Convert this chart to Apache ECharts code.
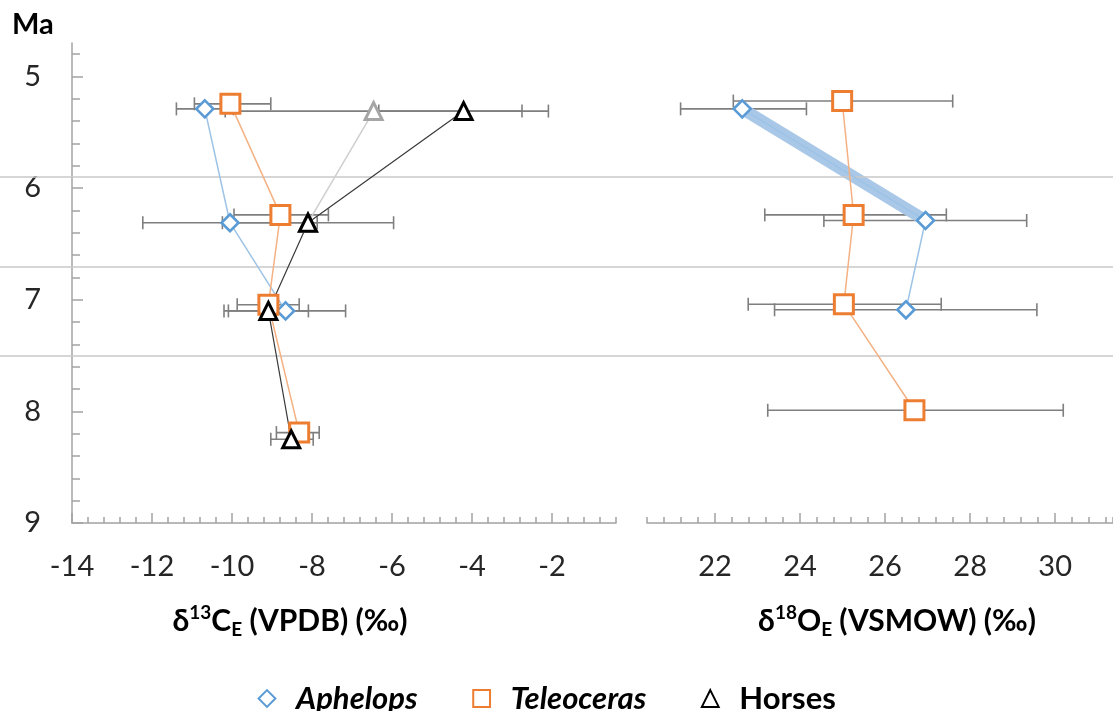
<!DOCTYPE html>
<html>
<head>
<meta charset="utf-8">
<script src="https://cdn.jsdelivr.net/npm/echarts@6/dist/echarts.min.js"></script>
<style>
  html, body { margin: 0; padding: 0; background: #fff; }
  #chart { width: 1113px; height: 711px; }
</style>
</head>
<body>
<div id="chart"></div>
<script>
// ---------- tick labels ----------
const ageTicks = [5, 6, 7, 8, 9];
const ageMinorTicks = [4.8, 5.2, 5.4, 5.6, 5.8, 6.2, 6.4, 6.6, 6.8, 7.2, 7.4, 7.6, 7.8, 8.2, 8.4, 8.6, 8.8];
const carbonTicks = [-14, -12, -10, -8, -6, -4, -2];
const oxygenTicks = [22, 24, 26, 28, 30];
const boundaryAges = [5.9, 6.7, 7.5];

// ---------- δ13C panel ----------
const aphelopsAgeC = [5.29, 6.31, 7.10];
const aphelopsC = [-10.68, -10.05, -8.66];
const aphelopsCLow = [-11.39, -12.23, -10.20];
const aphelopsCHigh = [-9.97, -7.87, -7.16];

const teleocerasAgeC = [5.245, 6.24, 7.045, 8.19];
const teleocerasC = [-10.04, -8.79, -9.09, -8.32];
const teleocerasCLow = [-10.94, -9.95, -9.87, -8.89];
const teleocerasCHigh = [-9.03, -7.59, -8.32, -7.82];

const horsesAgeC = [5.31, 6.31, 7.10, 8.25];
const horsesC = [-4.21, -8.10, -9.09, -8.52];
const horsesCLow = [-6.33, -10.24, -10.09, -9.03];
const horsesCHigh = [-2.09, -5.96, -8.09, -7.97];

const horsesGreyAgeC = [5.31, 6.31];
const horsesGreyC = [-6.46, -8.10];
const horsesGreyCLow = [-10.17];
const horsesGreyCHigh = [-2.75];

// ---------- δ18O panel ----------
const aphelopsAgeO = [5.29, 6.29, 7.09];
const aphelopsO = [22.64, 26.95, 26.49];
const aphelopsOLow = [21.19, 24.56, 23.40];
const aphelopsOHigh = [24.15, 29.33, 29.57];

const teleocerasAgeO = [5.22, 6.24, 7.04, 7.99];
const teleocerasO = [24.99, 25.26, 25.03, 26.69];
const teleocerasOLow = [22.43, 23.17, 22.78, 23.24];
const teleocerasOHigh = [27.59, 27.44, 27.32, 30.19];

// ---------- helpers ----------
const FONT = 'Lato';
const AXIS_GREY = '#a3a3a3';
const BAR_GREY = '#7f7f7f';

function pts(xs, ys) { return xs.map((v, i) => [v, ys[i]]); }
function bars(lo, hi, ys) { return lo.map((v, i) => [v, hi[i], ys[i]]); }

function errRender(params, api) {
  const y = api.value(2);
  const a = api.coord([api.value(0), y]);
  const b = api.coord([api.value(1), y]);
  const h = 6.5;
  const st = { stroke: BAR_GREY, lineWidth: 1.6, fill: null };
  return {
    type: 'group',
    children: [
      { type: 'line', shape: { x1: a[0], y1: a[1], x2: b[0], y2: b[1] }, style: st },
      { type: 'line', shape: { x1: a[0], y1: a[1] - h, x2: a[0], y2: a[1] + h }, style: st },
      { type: 'line', shape: { x1: b[0], y1: b[1] - h, x2: b[0], y2: b[1] + h }, style: st }
    ]
  };
}

function errSeries(name, lo, hi, ys, xi, yi) {
  return {
    name: name, type: 'custom', xAxisIndex: xi, yAxisIndex: yi,
    renderItem: errRender, data: bars(lo, hi, ys),
    encode: { x: [0, 1], y: 2 }, z: 3, silent: true, clip: false
  };
}

const axisLineStyle = { color: AXIS_GREY, width: 1.5 };
const labelStyle = { fontFamily: FONT, fontSize: 29, color: '#262626' };

function majorX(grid, min, max, ticks) {
  return {
    type: 'value', gridIndex: grid, min: min, max: max, position: 'bottom',
    axisLine: { show: true, onZero: false, lineStyle: axisLineStyle },
    axisTick: { show: true, inside: true, length: 10, customValues: ticks, lineStyle: axisLineStyle },
    axisLabel: { show: true, customValues: ticks, margin: 29, ...labelStyle },
    splitLine: { show: false }
  };
}
function minorX(grid, min, max) {
  return {
    type: 'value', gridIndex: grid, min: min, max: max, interval: 0.4, position: 'bottom',
    axisLine: { show: false, onZero: false },
    axisTick: { show: true, inside: true, length: 6, lineStyle: axisLineStyle },
    axisLabel: { show: false },
    splitLine: { show: false }
  };
}
function hiddenY(grid) {
  return { type: 'value', gridIndex: grid, min: 4.7, max: 9, inverse: true, show: false,
           axisLine: { onZero: false }, splitLine: { show: false } };
}

const sym = {
  aphelops: { symbol: 'diamond', symbolSize: 17,
    itemStyle: { color: '#ffffff', borderColor: '#5b9bd5', borderWidth: 2.6 },
    lineStyle: { color: '#9dc3e6', width: 1.5 } },
  teleoceras: { symbol: 'rect', symbolSize: 19,
    itemStyle: { color: '#ffffff', borderColor: '#ed7d31', borderWidth: 3 },
    lineStyle: { color: '#f4b183', width: 1.5 } },
  horses: { symbol: 'triangle', symbolSize: 17,
    itemStyle: { color: '#ffffff', borderColor: '#000000', borderWidth: 3 },
    lineStyle: { color: '#3a3a3a', width: 1.2 } },
  horsesGrey: { symbol: 'triangle', symbolSize: 17,
    itemStyle: { color: '#ffffff', borderColor: '#a6a6a6', borderWidth: 3 },
    lineStyle: { color: '#cfcfcf', width: 1.5 } }
};

function lineSeries(name, data, s, xi, yi) {
  return Object.assign({
    name: name, type: 'line', xAxisIndex: xi, yAxisIndex: yi, data: data,
    showAllSymbol: true, z: 5, silent: true, clip: false
  }, JSON.parse(JSON.stringify(s)));
}

const titleRich = {
  d: { fontFamily: FONT, fontWeight: 'bold', fontSize: 30, lineHeight: 36, fill: '#000' },
  sup: { fontFamily: FONT, fontWeight: 'bold', fontSize: 19, lineHeight: 22, verticalAlign: 'top', fill: '#000' },
  sub: { fontFamily: FONT, fontWeight: 'bold', fontSize: 19, lineHeight: 22, verticalAlign: 'bottom', fill: '#000' }
};

const chart = echarts.init(document.getElementById('chart'), null, { renderer: 'canvas' });

const option = {
  animation: false,
  backgroundColor: '#ffffff',
  grid: [
    { left: 72, right: 497, top: 43, bottom: 188 },
    { left: 647, right: 0, top: 43, bottom: 188 },
    { left: 0, right: 0, top: 43, bottom: 188 }
  ],
  xAxis: [
    majorX(0, -14, -0.4, carbonTicks),
    minorX(0, -14, -0.4),
    majorX(1, 20.4, 31.36, oxygenTicks),
    minorX(1, 20.4, 31.36),
    { type: 'value', gridIndex: 2, min: 0, max: 1, show: false, splitLine: { show: false } }
  ],
  yAxis: [
    {
      type: 'value', gridIndex: 0, min: 4.7, max: 9, inverse: true, position: 'left',
      axisLine: { show: true, onZero: false, lineStyle: axisLineStyle },
      axisTick: { show: true, inside: true, length: 11, customValues: ageTicks, lineStyle: axisLineStyle },
      axisLabel: { show: true, customValues: ageTicks, margin: 31, ...labelStyle },
      splitLine: { show: false }
    },
    {
      type: 'value', gridIndex: 0, min: 4.7, max: 9, inverse: true, position: 'left',
      axisLine: { show: false, onZero: false },
      axisTick: { show: true, inside: true, length: 8, customValues: ageMinorTicks, lineStyle: axisLineStyle },
      axisLabel: { show: false },
      splitLine: { show: false }
    },
    hiddenY(1),
    hiddenY(2)
  ],
  legend: {
    left: 238, top: 678, padding: 5, itemWidth: 48, itemHeight: 21, itemGap: 40,
    lineStyle: { width: 0, opacity: 0 },
    textStyle: { fontFamily: FONT, fontWeight: 'bold', fontSize: 31, color: '#000' },
    data: [
      { name: 'Aphelops', textStyle: { fontStyle: 'italic' } },
      { name: 'Teleoceras', textStyle: { fontStyle: 'italic' } },
      { name: 'Horses' }
    ],
    selectedMode: false
  },
  graphic: [
    { type: 'text', x: 12, y: 25, style: { text: 'Ma', font: 'bold 29px Lato', fill: '#000', verticalAlign: 'middle', align: 'left' } },
    { type: 'text', x: 290, y: 621, style: {
        text: '{d|δ}{sup|13}{d|C}{sub|E}{d| (VPDB) (‰)}', rich: titleRich,
        align: 'center', verticalAlign: 'middle' } },
    { type: 'text', x: 897, y: 621, style: {
        text: '{d|δ}{sup|18}{d|O}{sub|E}{d| (VSMOW) (‰)}', rich: titleRich,
        align: 'center', verticalAlign: 'middle' } }
  ],
  series: [
    {
      name: 'boundaries', type: 'line', xAxisIndex: 4, yAxisIndex: 3, data: [], z: 1, silent: true,
      markLine: {
        silent: true, symbol: ['none', 'none'], label: { show: false },
        lineStyle: { color: '#c9c9c9', width: 1.5, type: 'solid' },
        emphasis: { disabled: true },
        data: boundaryAges.map(a => ({ yAxis: a }))
      }
    },
    // error bars, δ13C
    errSeries('errAphelopsC', aphelopsCLow, aphelopsCHigh, aphelopsAgeC, 0, 0),
    errSeries('errTeleocerasC', teleocerasCLow, teleocerasCHigh, teleocerasAgeC, 0, 0),
    errSeries('errHorsesGreyC', horsesGreyCLow, horsesGreyCHigh, horsesGreyAgeC, 0, 0),
    errSeries('errHorsesC', horsesCLow, horsesCHigh, horsesAgeC, 0, 0),
    // error bars, δ18O
    errSeries('errAphelopsO', aphelopsOLow, aphelopsOHigh, aphelopsAgeO, 2, 2),
    errSeries('errTeleocerasO', teleocerasOLow, teleocerasOHigh, teleocerasAgeO, 2, 2),
    // δ13C series
    lineSeries('Aphelops', pts(aphelopsC, aphelopsAgeC), sym.aphelops, 0, 0),
    lineSeries('Teleoceras', pts(teleocerasC, teleocerasAgeC), sym.teleoceras, 0, 0),
    lineSeries('Horses (grey)', pts(horsesGreyC, horsesGreyAgeC), sym.horsesGrey, 0, 0),
    lineSeries('Horses', pts(horsesC, horsesAgeC), sym.horses, 0, 0),
    // δ18O series
    {
      name: 'Aphelops trend', type: 'line', xAxisIndex: 2, yAxisIndex: 2, z: 4, silent: true,
      data: pts(aphelopsO.slice(0, 2), aphelopsAgeO.slice(0, 2)),
      symbol: 'none', lineStyle: { color: '#a9c8e8', width: 12, cap: 'butt' }
    },
    lineSeries('Aphelops', pts(aphelopsO, aphelopsAgeO), sym.aphelops, 2, 2),
    lineSeries('Teleoceras', pts(teleocerasO, teleocerasAgeO), sym.teleoceras, 2, 2)
  ]
};

chart.setOption(option);
</script>
</body>
</html>
